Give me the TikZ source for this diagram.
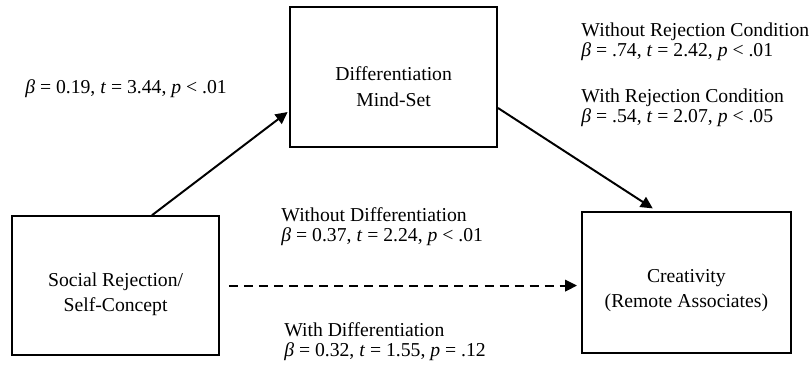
\documentclass[tikz,border=0pt]{standalone}
\usepackage{fontspec}
\setmainfont{Liberation Serif}
\usetikzlibrary{arrows.meta}

\begin{document}
\begin{tikzpicture}[font=\fontsize{14}{14.4}\selectfont,>={Triangle[length=3mm,width=2.9mm]},
  box/.style={draw,line width=1.1pt,align=center,font=\fontsize{14}{18}\selectfont},
  lbl/.style={inner sep=0pt,align=left,anchor=west},
  arr/.style={->,line width=1.4pt}]
\useasboundingbox (0,0) rectangle (20.3,9.2);

% boxes (text sits a little below the middle)
\node[box,minimum width=5.18cm,minimum height=3.5cm]
  (diff) at (9.84,7.28) {\rule{0pt}{24pt}Differentiation\\Mind-Set};
\node[box,minimum width=5.18cm,minimum height=3.48cm]
  (social) at (2.89,2.06) {\rule{0pt}{22pt}Social Rejection/\\Self-Concept};
\node[box,minimum width=5.23cm,minimum height=3.53cm]
  (creat) at (17.16,2.14) {\rule{0pt}{21pt}Creativity\\(Remote Associates)};

\node[inner sep=0pt,anchor=base west] (beta1) at (0.625,6.875)
  {\textit{β} = 0.19, \textit{t} = 3.44, \textit{p} < .01};
\node[lbl] (worej) at (14.53,8.15)
  {Without Rejection Condition\\\textit{β} = .74, \textit{t} = 2.42, \textit{p} < .01};
\node[lbl] (withrej) at (14.53,6.5)
  {With Rejection Condition\\\textit{β} = .54, \textit{t} = 2.07, \textit{p} < .05};
\node[lbl] (wodiff) at (7.03,3.53)
  {Without Differentiation\\\textit{β} = 0.37, \textit{t} = 2.24, \textit{p} < .01};
\node[lbl] (withdiff) at (7.1,0.65)
  {With Differentiation\\\textit{β} = 0.32, \textit{t} = 1.55, \textit{p} = .12};

\draw[arr,shorten >=0.05cm] ([xshift=0.91cm]social.north) -- ([yshift=-0.85cm]diff.west);
\draw[arr,shorten >=0.12cm] ([yshift=-0.78cm]diff.east) -- ([xshift=-0.74cm]creat.north);
\draw[arr,dash pattern=on 6.4pt off 4.3pt,shorten >=0.1cm]
  ([xshift=0.22cm]social.east) -- (social.east -| creat.west);
\end{tikzpicture}
\end{document}
